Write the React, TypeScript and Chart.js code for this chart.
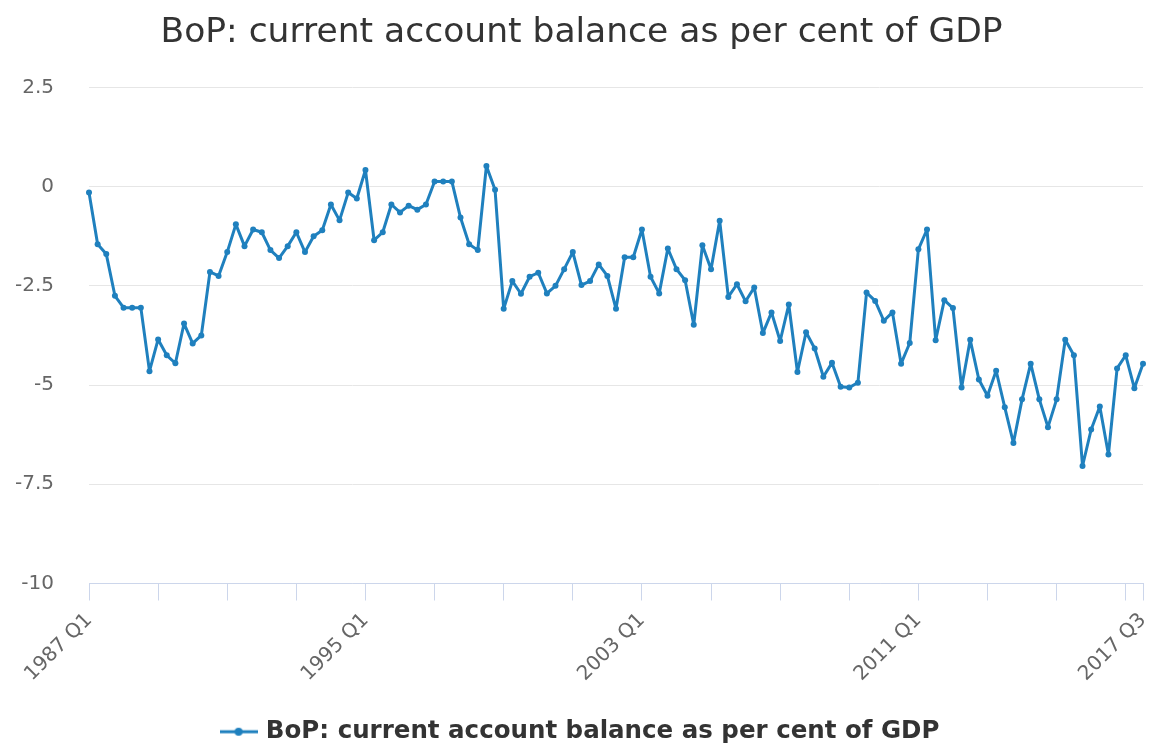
import React, { useEffect, useRef } from "react";
import { Chart, registerables } from "chart.js";

Chart.register(...registerables);

const TITLE = "BoP: current account balance as per cent of GDP";
const SERIES_NAME = "BoP: current account balance as per cent of GDP";
const START_YEAR = 1987;
const SHOWN_TICK_LABELS = ["1987 Q1", "1995 Q1", "2003 Q1", "2011 Q1", "2017 Q3"];
const Y_TICKS = [2.5, 0, -2.5, -5, -7.5, -10];

const values1987to1991 = [
  -0.15, -1.45, -1.7, -2.75, -3.05, -3.05, -3.05, -4.65, -3.85, -4.25,
  -4.45, -3.45, -3.95, -3.75, -2.15, -2.25, -1.65, -0.95, -1.5, -1.08,
];
const values1992to1996 = [
  -1.15, -1.6, -1.8, -1.5, -1.15, -1.65, -1.25, -1.1, -0.45, -0.85,
  -0.15, -0.3, 0.42, -1.35, -1.15, -0.45, -0.65, -0.48, -0.58, -0.45,
];
const values1997to2001 = [
  0.13, 0.13, 0.13, -0.78, -1.45, -1.6, 0.52, -0.08, -3.08, -2.38,
  -2.7, -2.27, -2.17, -2.69, -2.5, -2.08, -1.65, -2.48, -2.38, -1.96,
];
const values2002to2006 = [
  -2.25, -3.08, -1.78, -1.78, -1.08, -2.27, -2.69, -1.56, -2.08, -2.36,
  -3.48, -1.48, -2.08, -0.86, -2.78, -2.46, -2.89, -2.54, -3.69, -3.17,
];
const values2007to2011 = [
  -3.89, -2.97, -4.67, -3.67, -4.08, -4.79, -4.44, -5.04, -5.06, -4.94,
  -2.67, -2.88, -3.38, -3.17, -4.46, -3.94, -1.58, -1.08, -3.87, -2.86,
];
const values2012to2017 = [
  -3.06, -5.06, -3.86, -4.86, -5.27, -4.64, -5.56, -6.46, -5.36, -4.46,
  -5.36, -6.06, -5.36, -3.86, -4.25, -7.04, -6.12, -5.54, -6.75, -4.58,
  -4.25, -5.08, -4.46,
];

const VALUES = [
  ...values1987to1991,
  ...values1992to1996,
  ...values1997to2001,
  ...values2002to2006,
  ...values2007to2011,
  ...values2012to2017,
];

const QUARTERS = VALUES.map(
  (_, i) => `${START_YEAR + Math.floor(i / 4)} Q${(i % 4) + 1}`
);

const LINE_COLOR = "#1f80be";
const FONT = "'DejaVu Sans', sans-serif";

function makeLegendSymbol(): HTMLCanvasElement {
  const c = document.createElement("canvas");
  c.width = 38;
  c.height = 10;
  const ctx = c.getContext("2d")!;
  ctx.strokeStyle = LINE_COLOR;
  ctx.lineWidth = 3;
  ctx.beginPath();
  ctx.moveTo(0, 5);
  ctx.lineTo(38, 5);
  ctx.stroke();
  ctx.fillStyle = LINE_COLOR;
  ctx.beginPath();
  ctx.arc(19, 5, 4, 0, Math.PI * 2);
  ctx.fill();
  return c;
}

export default function App() {
  const ref = useRef<HTMLCanvasElement | null>(null);

  useEffect(() => {
    document.body.style.margin = "0";
    const canvas = ref.current;
    if (!canvas) return;
    const symbol = makeLegendSymbol();
    const chart = new Chart(canvas, {
      type: "line",
      data: {
        labels: QUARTERS,
        datasets: [
          {
            label: SERIES_NAME,
            data: VALUES,
            borderColor: LINE_COLOR,
            backgroundColor: LINE_COLOR,
            borderWidth: 3,
            borderJoinStyle: "round",
            borderCapStyle: "round",
            pointRadius: 3,
            pointHoverRadius: 3,
            pointBackgroundColor: LINE_COLOR,
            pointBorderWidth: 0,
            tension: 0,
          },
        ],
      },
      options: {
        animation: false,
        responsive: false,
        maintainAspectRatio: false,
        layout: { padding: { left: 10, right: 12, top: 0, bottom: 0 } },
        plugins: {
          title: {
            display: true,
            text: TITLE,
            color: "#333333",
            font: { family: FONT, size: 34.5, weight: "normal" },
            padding: { top: 12, bottom: 34 },
          },
          legend: {
            display: true,
            position: "bottom",
            labels: {
              color: "#333333",
              font: { family: FONT, size: 24.5, weight: "bold" },
              usePointStyle: true,
              pointStyleWidth: 30,
              padding: 9,
              generateLabels: () => [
                {
                  text: SERIES_NAME,
                  pointStyle: symbol,
                  fillStyle: LINE_COLOR,
                  strokeStyle: LINE_COLOR,
                  lineWidth: 0,
                  hidden: false,
                  datasetIndex: 0,
                  fontColor: "#333333",
                },
              ],
            },
          },
          tooltip: { enabled: false },
        },
        scales: {
          x: {
            type: "category",
            offset: false,
            afterBuildTicks: (scale: any) => {
              const last = QUARTERS.length - 1;
              scale.ticks = scale.ticks.filter(
                (t: any) => t.value % 8 === 0 || t.value === last
              );
            },
            afterFit: (scale: any) => {
              scale.height = 127;
              scale.paddingLeft = 0;
              scale.paddingRight = 22;
            },
            grid: {
              display: true,
              drawOnChartArea: false,
              drawTicks: true,
              tickLength: 17,
              color: "#ccd6eb",
            },
            border: { display: true, color: "#ccd6eb", width: 1 },
            ticks: {
              autoSkip: false,
              minRotation: 45,
              maxRotation: 45,
              padding: 8,
              color: "#666666",
              font: { family: FONT, size: 20 },
              callback: function (value: any) {
                const lab = QUARTERS[value as number];
                return SHOWN_TICK_LABELS.includes(lab) ? lab : "";
              },
            },
          },
          y: {
            type: "linear",
            min: -10,
            max: 2.5,
            afterBuildTicks: (scale: any) => {
              scale.ticks = Y_TICKS.map((v) => ({ value: v }));
            },
            afterFit: (scale: any) => {
              scale.width = 79;
            },
            grid: {
              color: "#e6e6e6",
              drawTicks: false,
              lineWidth: 1,
            },
            border: { display: false },
            ticks: {
              padding: 35,
              color: "#666666",
              font: { family: FONT, size: 20 },
              callback: (v: any) => String(v),
            },
          },
        },
      },
    });
    return () => chart.destroy();
  }, []);

  return (
    <div style={{ width: 1165, height: 754 }}>
      <canvas ref={ref} width={1165} height={754} style={{ display: "block" }} />
    </div>
  );
}
